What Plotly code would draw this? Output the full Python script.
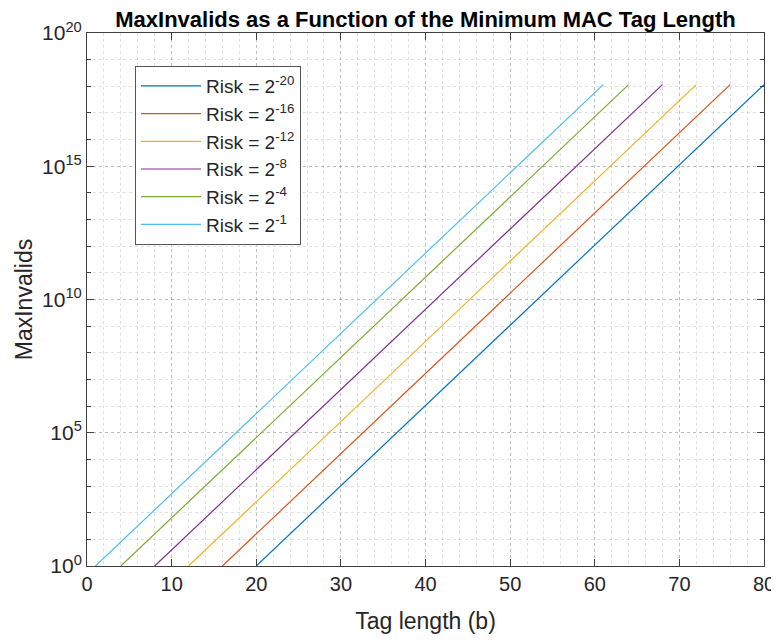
import plotly.graph_objects as go

risk_labels = ["Risk = 2<sup>-20</sup>", "Risk = 2<sup>-16</sup>", "Risk = 2<sup>-12</sup>",
               "Risk = 2<sup>-8</sup>", "Risk = 2<sup>-4</sup>", "Risk = 2<sup>-1</sup>"]
x_start = [20, 16, 12, 8, 4, 1]
x_end = [80, 76, 72, 68, 64, 61]
y_start = [1.0, 1.0, 1.0, 1.0, 1.0, 1.0]
y_end = [1.1529e18, 1.1529e18, 1.1529e18, 1.1529e18, 1.1529e18, 1.1529e18]
colors = ["#0072BD", "#D95319", "#EDB120", "#7E2F8E", "#77AC30", "#4DBEEE"]

ytick_vals = [1e0, 1e5, 1e10, 1e15, 1e20]
ytick_text = ["10<sup>0</sup>", "10<sup>5</sup>", "10<sup>10</sup>", "10<sup>15</sup>", "10<sup>20</sup>"]
yminor_vals = [1e0, 1e1, 1e2, 1e3, 1e4, 1e5, 1e6, 1e7, 1e8, 1e9, 1e10,
               1e11, 1e12, 1e13, 1e14, 1e15, 1e16, 1e17, 1e18, 1e19, 1e20]
xtick_vals = [0, 10, 20, 30, 40, 50, 60, 70, 80]

fig = go.Figure()
for lab, xs, xe, ys, ye, c in zip(risk_labels, x_start, x_end, y_start, y_end, colors):
    fig.add_trace(go.Scatter(x=[xs, xe], y=[ys, ye], mode="lines", name=lab,
                             line=dict(color=c, width=1.2)))

axcol = "#404040"
fig.update_layout(
    width=771, height=632,
    paper_bgcolor="white", plot_bgcolor="white",
    margin=dict(l=79, r=15, t=25, b=74),
    font=dict(family="Liberation Sans, Arial, sans-serif", color="#262626", size=21),
    title=dict(text="<b>MaxInvalids as a Function of the Minimum MAC Tag Length</b>",
               x=0.5415, xanchor="center", y=0.994, yanchor="top",
               pad=dict(t=0, b=0),
               font=dict(size=22, color="black")),
    showlegend=True,
    legend=dict(x=0.0709, y=0.938, xanchor="left", yanchor="top",
                bgcolor="white", bordercolor="#555555", borderwidth=1,
                font=dict(size=19, color="#262626"), tracegroupgap=0,
                itemwidth=60),
    xaxis=dict(range=[0, 80], tickvals=xtick_vals, ticks="inside", ticklen=7,
               tickcolor=axcol,
               showline=True, linecolor=axcol, linewidth=1, mirror="ticks",
               showgrid=True, gridcolor="rgba(0,0,0,0.15)", griddash="dot", gridwidth=1,
               minor=dict(dtick=2, showgrid=True, gridcolor="rgba(0,0,0,0.12)", griddash="dot", ticks=""),
               zeroline=False, tickfont=dict(size=20), automargin=False,
               title=dict(text="Tag length (b)", font=dict(size=23), standoff=18)),
    yaxis=dict(type="log", range=[0, 20], tickvals=ytick_vals, ticktext=ytick_text,
               ticks="inside", ticklen=7, tickcolor=axcol,
               showline=True, linecolor=axcol, linewidth=1, mirror="ticks",
               showgrid=True, gridcolor="rgba(0,0,0,0.15)", griddash="dot", gridwidth=1,
               minor=dict(tickvals=yminor_vals, showgrid=True, tickcolor=axcol,
                          gridcolor="rgba(0,0,0,0.12)", griddash="dot", ticks="inside", ticklen=4),
               zeroline=False, tickfont=dict(size=21), automargin=False,
               title=dict(text="MaxInvalids", font=dict(size=23), standoff=3)),
)

fig.write_html("out.html")
